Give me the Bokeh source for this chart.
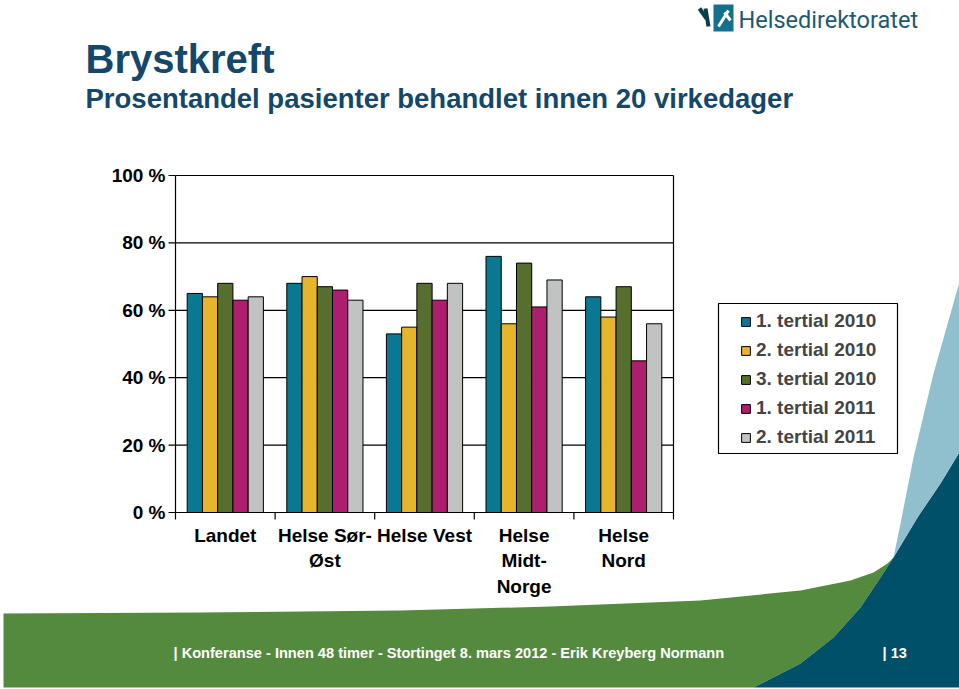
from math import pi
from bokeh.plotting import figure
from bokeh.models import Range1d, Legend, LegendItem
from bokeh.core.properties import value
from bokeh.embed import file_html
from bokeh.resources import INLINE

# ---------------- data ----------------
categories = ["Landet", "Helse Sør-Øst", "Helse Vest", "Helse Midt-Norge", "Helse Nord"]
category_labels = ["Landet", "Helse Sør-\nØst", "Helse Vest", "Helse\nMidt-\nNorge", "Helse\nNord"]
series_names = ["1. tertial 2010", "2. tertial 2010", "3. tertial 2010", "1. tertial 2011", "2. tertial 2011"]
tertial1_2010 = [65, 68, 53, 76, 64]
tertial2_2010 = [64, 70, 55, 56, 58]
tertial3_2010 = [68, 67, 68, 74, 67]
tertial1_2011 = [63, 66, 63, 61, 45]
tertial2_2011 = [64, 63, 68, 69, 56]
y_ticks = [0, 20, 40, 60, 80, 100]
y_tick_labels = ["0 %", "20 %", "40 %", "60 %", "80 %", "100 %"]

title_text = "Brystkreft"
subtitle_text = "Prosentandel pasienter behandlet innen 20 virkedager"
footer_text = "| Konferanse - Innen 48 timer - Stortinget 8. mars 2012 - Erik Kreyberg Normann"
page_text = "| 13"
logo_text = "Helsedirektoratet"

series_values = [tertial1_2010, tertial2_2010, tertial3_2010, tertial1_2011, tertial2_2011]
colors = ["#0a7893", "#e6b52b", "#566f2e", "#ad1f6e", "#c1c3c3"]

# ---------------- layout (page pixels) ----------------
W, H = 959, 689
OX, OY = 0, 0
PL, PR, PT, PB = 175, 673, 175, 512   # plot area in page pixels
ncat = len(categories)
ymax = 100
BAR_W = 0.153
FONT = "Liberation Sans"

p = figure(width=W, height=H, x_range=Range1d(OX, OX + W), y_range=Range1d(OY + H, OY),
           min_border=0, toolbar_location=None, output_backend="svg",
           x_axis_location=None, y_axis_location=None, outline_line_color=None)
p.grid.visible = False
p.background_fill_color = "white"

# chart coordinate systems mapped onto the plot area
upx = ncat / (PR - PL)
p.extra_x_ranges = {"cat": Range1d((OX - PL) * upx, (OX + W - PL) * upx)}
vpx = ymax / (PB - PT)
p.extra_y_ranges = {"pct": Range1d((PB - (OY + H)) * vpx, (PB - OY) * vpx)}
C = dict(x_range_name="cat", y_range_name="pct")

# ---------------- decoration ----------------
green_x = [3, 200, 400, 550, 700, 800, 850, 873, 887, 893, 880, 860, 833, 800, 753, 3]
green_y = [613, 612, 610, 606, 600, 590, 580, 572, 563, 557, 577, 607, 637, 663, 687, 687]
p.patch(green_x, green_y, fill_color="#548a3e", line_color=None)
navy_x = [753, 800, 833, 860, 880, 893, 917, 940, 960, 960]
navy_y = [687, 663, 637, 607, 577, 557, 517, 483, 450, 687]
p.patch(navy_x, navy_y, fill_color="#00506a", line_color=None)
lb_x = [893, 900, 913, 933, 958, 960, 960, 940, 917]
lb_y = [557, 523, 457, 373, 285, 285, 450, 483, 517]
p.patch(lb_x, lb_y, fill_color="#90c0cd", line_color=None)

p.text(x=[85], y=[58], text=[title_text], text_font=value(FONT), text_font_style="bold",
       text_font_size="40px", text_color="#14476a", text_baseline="alphabetic")
p.text(x=[85], y=[98], text=[subtitle_text], text_font=value(FONT), text_font_style="bold",
       text_font_size="27.5px", text_color="#14476a", text_baseline="alphabetic")
p.text(x=[173], y=[652], text=[footer_text], text_font=value(FONT), text_font_style="bold",
       text_font_size="14.6px", text_color="white", text_baseline="middle")
p.text(x=[882], y=[652], text=[page_text], text_font=value(FONT), text_font_style="bold",
       text_font_size="14.6px", text_color="white", text_baseline="middle")
# logo
p.quad(left=[713], right=[733], top=[4], bottom=[31], fill_color="#15708c", line_color=None)
p.segment(x0=[718, 724], y0=[26, 12], x1=[728, 730], y1=[10, 20], line_color="white", line_width=3)
p.segment(x0=[699, 705], y0=[8, 8], x1=[706, 708], y1=[18, 26], line_color="#0b3d4f", line_width=4)
p.text(x=[738], y=[19], text=[logo_text], text_font=value("Roboto"), text_font_size="23.5px",
       text_color="#1b5a74", text_baseline="middle")

# ---------------- chart ----------------
# grid lines and frame
p.segment(x0=0, x1=ncat, y0=y_ticks, y1=y_ticks, line_color="black", line_width=1.2, **C)
p.segment(x0=[0, ncat], x1=[0, ncat], y0=[0, 0], y1=[ymax, ymax], line_color="black", line_width=1.2, **C)
# ticks
p.ray(x=0, y=y_ticks, length=7, angle=pi, length_units="screen", line_color="black", line_width=1.2, **C)
p.ray(x=list(range(ncat + 1)), y=0, length=7, angle=-pi / 2, length_units="screen",
      line_color="black", line_width=1.2, **C)

renderers = []
for k, vals in enumerate(series_values):
    xs = [i + 0.5 + (k - (len(series_values) - 1) / 2) * BAR_W for i in range(ncat)]
    r = p.vbar(x=xs, top=vals, bottom=0, width=BAR_W, fill_color=colors[k],
               line_color="black", line_width=1, **C)
    renderers.append(r)

p.text(x=0, y=y_ticks, text=y_tick_labels, x_offset=-10, text_align="right", text_baseline="middle",
       text_font=value(FONT), text_font_style="bold", text_font_size="19px", text_color="black", **C)
p.text(x=[i + 0.5 for i in range(ncat)], y=0, text=category_labels, y_offset=12,
       text_align="center", text_baseline="top", text_line_height=1.23,
       text_font=value(FONT), text_font_style="bold", text_font_size="19px", text_color="black", **C)

# legend
p.quad(left=[718], right=[897], top=[303], bottom=[453], fill_color="white", line_color="black", line_width=1.2)
legend = Legend(items=[LegendItem(label=s, renderers=[r]) for s, r in zip(series_names, renderers)],
                location=(740, 241), padding=0, margin=0, spacing=7, label_height=21,
                glyph_width=11, glyph_height=11, label_standoff=5,
                label_text_font=FONT, label_text_font_style="bold", label_text_font_size="19px",
                border_line_color=None, background_fill_alpha=0)
p.add_layout(legend)

open("out.html", "w").write(file_html(p, INLINE))
